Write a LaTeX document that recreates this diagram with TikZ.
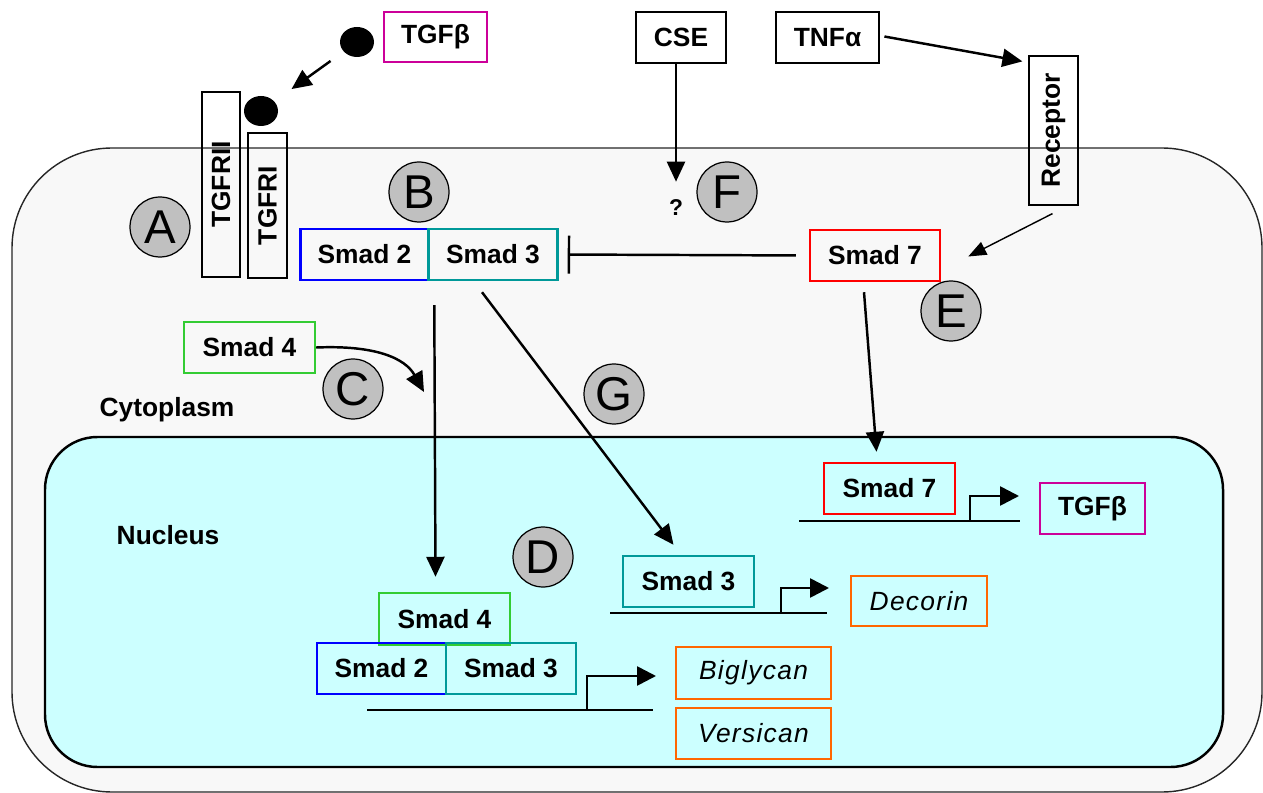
\documentclass[tikz,border=0pt]{standalone}
\usepackage{fontspec}
\setmainfont{Liberation Sans}
\usepackage{graphicx}
\usetikzlibrary{arrows.meta,calc,shapes.geometric}

\definecolor{cellgray}{RGB}{248,248,248}
\definecolor{nuccyan}{RGB}{204,255,255}
\definecolor{taggray}{RGB}{192,192,192}
\definecolor{smadblue}{RGB}{0,0,255}
\definecolor{smadteal}{RGB}{0,153,153}
\definecolor{smadgreen}{RGB}{51,204,51}
\definecolor{smadred}{RGB}{255,0,0}
\definecolor{tgfmagenta}{RGB}{204,0,153}
\definecolor{geneorange}{RGB}{255,102,0}

\tikzset{
	smadbox/.style={draw, line width=1.4pt, minimum height=1.02cm, inner sep=0pt,
		font=\fontsize{15}{18}\selectfont\bfseries},
	genebox/.style={draw=geneorange, line width=1.4pt, minimum height=1.02cm, inner sep=0pt,
		font=\fontsize{15}{18}\selectfont\itshape\addfontfeature{LetterSpace=5}},
	recbox/.style={draw, line width=0.7pt, inner sep=0pt, font=\fontsize{15}{18}\selectfont\bfseries},
	tagdisc/.style={circle, draw, line width=0.7pt, fill=taggray, minimum size=1.2cm, inner sep=0pt,
		font=\fontsize{27}{30}\selectfont},
	arr/.style={line width=1.4pt, -{Triangle[length=0.4cm,width=0.36cm]}},
	thinarr/.style={line width=0.8pt, -{Triangle[length=0.36cm,width=0.28cm]}},
	inh/.style={line width=1.4pt, -{Bar[width=0.76cm]}},
	dna/.style={line width=1.7pt},
	prom/.style={line width=1.5pt, -{Triangle[length=0.38cm,width=0.38cm]}}
}

\begin{document}
\begin{tikzpicture}[x=0.02cm, y=-0.02cm]

	\useasboundingbox (0,0) rectangle (1263,793);

	% cell and nucleus
	\path[draw=black!85, line width=0.8pt, fill=cellgray, rounded corners=2cm]
		(12,148) rectangle (1262,792);
	\path[draw=black, line width=1.4pt, fill=nuccyan, rounded corners=1.05cm]
		(45,437) rectangle (1223,767);

	\node[font=\fontsize{15}{18}\selectfont\bfseries] (cyto) at (167,410) {Cytoplasm};
	\node[font=\fontsize{15}{18}\selectfont\bfseries] (nucl) at (168,535) {Nucleus};

	% outside the cell
	\node[smadbox, draw=tgfmagenta, minimum width=2.06cm, minimum height=1cm] (tgfbTop) at (435.5,37) {TGFβ};
	\node[ellipse, fill=black, minimum width=0.68cm, minimum height=0.6cm, inner sep=0pt] (ligA) at (357,42) {};
	\node[ellipse, fill=black, minimum width=0.68cm, minimum height=0.6cm, inner sep=0pt] (ligB) at (261,111) {};
	\node[smadbox, line width=1.6pt, minimum width=1.8cm] (cse) at (681,37.5) {CSE};
	\node[smadbox, line width=1.6pt, minimum width=2.06cm] (tnfa) at (827.5,37.5) {TNFα};

	% receptors
	\node[recbox, minimum width=0.76cm, minimum height=3.7cm] (tgfr2) at (221,184.5) {\rotatebox{90}{TGFRII}};
	\node[recbox, minimum width=0.78cm, minimum height=2.9cm] (tgfr1) at (267.5,205.5) {\rotatebox{90}{TGFRI}};
	\node[recbox, minimum width=0.98cm, minimum height=2.98cm] (receptor) at (1053.5,130.5) {\rotatebox{90}{Receptor}};

	% cytoplasm
	\node[smadbox, draw=smadblue, minimum width=2.56cm] (smad2top) at (364.5,254.5) {Smad 2};
	\node[smadbox, draw=smadteal, minimum width=2.58cm] (smad3top) at (493,254.5) {Smad 3};
	\node[smadbox, draw=smadred, minimum width=2.6cm] (smad7top) at (875,255.5) {Smad 7};
	\node[smadbox, draw=smadgreen, minimum width=2.62cm] (smad4cyt) at (249.5,347.5) {Smad 4};
	\node[font=\fontsize{13}{15}\selectfont\bfseries, inner sep=0pt] (qmark) at (676,208) {?};
	\coordinate (s4tip) at (424,392);

	% nucleus
	\node[smadbox, draw=smadred, minimum width=2.62cm] (smad7nuc) at (889.5,488.5) {Smad 7};
	\node[smadbox, draw=tgfmagenta, minimum width=2.1cm] (tgfbNuc) at (1092.5,508.5) {TGFβ};
	\node[smadbox, draw=smadteal, minimum width=2.62cm] (smad3nuc) at (688.5,581.5) {Smad 3};
	\node[genebox, minimum width=2.72cm, minimum height=1cm] (decorin) at (919,601) {Decorin};
	\node[smadbox, draw=smadgreen, minimum width=2.62cm, minimum height=1.04cm] (smad4nuc) at (444.5,619) {Smad 4};
	\node[smadbox, draw=smadblue, minimum width=2.58cm] (smad2nuc) at (381.5,668.5) {Smad 2};
	\node[smadbox, draw=smadteal, minimum width=2.6cm] (smad3bot) at (511,668.5) {Smad 3};
	\node[genebox, minimum width=3.1cm, minimum height=1.04cm] (biglycan) at (753.5,673) {Biglycan};
	\node[genebox, minimum width=3.1cm] (versican) at (753.5,733.5) {Versican};

	% DNA with promoters
	\draw[dna] (799,521) -- (1020,521);
	\draw[prom] (970,521) |- (1019,496);
	\draw[dna] (610,613) -- (827,613);
	\draw[prom] (781,613) |- (829,588);
	\draw[dna] (367,710) -- (653,710);
	\draw[prom] (587,710) |- (656,676);

	% connectors
	\draw[arr, shorten <=0.32cm, shorten >=0.42cm] (ligA) -- (ligB);
	\draw[arr, shorten >=0.36cm] (cse.south -| qmark) -- (qmark.north);
	\draw[arr] ($(tnfa.east)+(4,-1)$) -- ($(receptor.north west)+(-6,6)$);
	\draw[thinarr] ($(receptor.south)+(-1,8)$) -- ($(smad7top.east)+(27,1)$);
	\draw[inh, shorten <=0.26cm, shorten >=0.18cm] (smad7top.west) -- (smad3top.east);
	\draw[arr] (smad4cyt.east) .. controls (375,345) and (405,358) .. (s4tip);
	\draw[arr] ($(smad3top.south west)+(7,24)$) -- ($(smad4nuc.north)+(-9,-15)$);
	\draw[arr] ($(smad3top.south)+(-11,11)$) -- ($(smad3nuc.north)+(-15,-10)$);
	\draw[arr] ($(smad7top.south)+(-11,10)$) -- ($(smad7nuc.north)+(-13,-10)$);

	% letters
	\node[tagdisc] (tagA) at (160,227) {A};
	\node[tagdisc] (tagB) at (419,192) {B};
	\node[tagdisc] (tagC) at (353,389) {C};
	\node[tagdisc] (tagD) at (543,557) {D};
	\node[tagdisc] (tagE) at (951,311) {E};
	\node[tagdisc] (tagF) at (727,192) {F};
	\node[tagdisc] (tagG) at (614,394) {G};

\end{tikzpicture}
\end{document}
